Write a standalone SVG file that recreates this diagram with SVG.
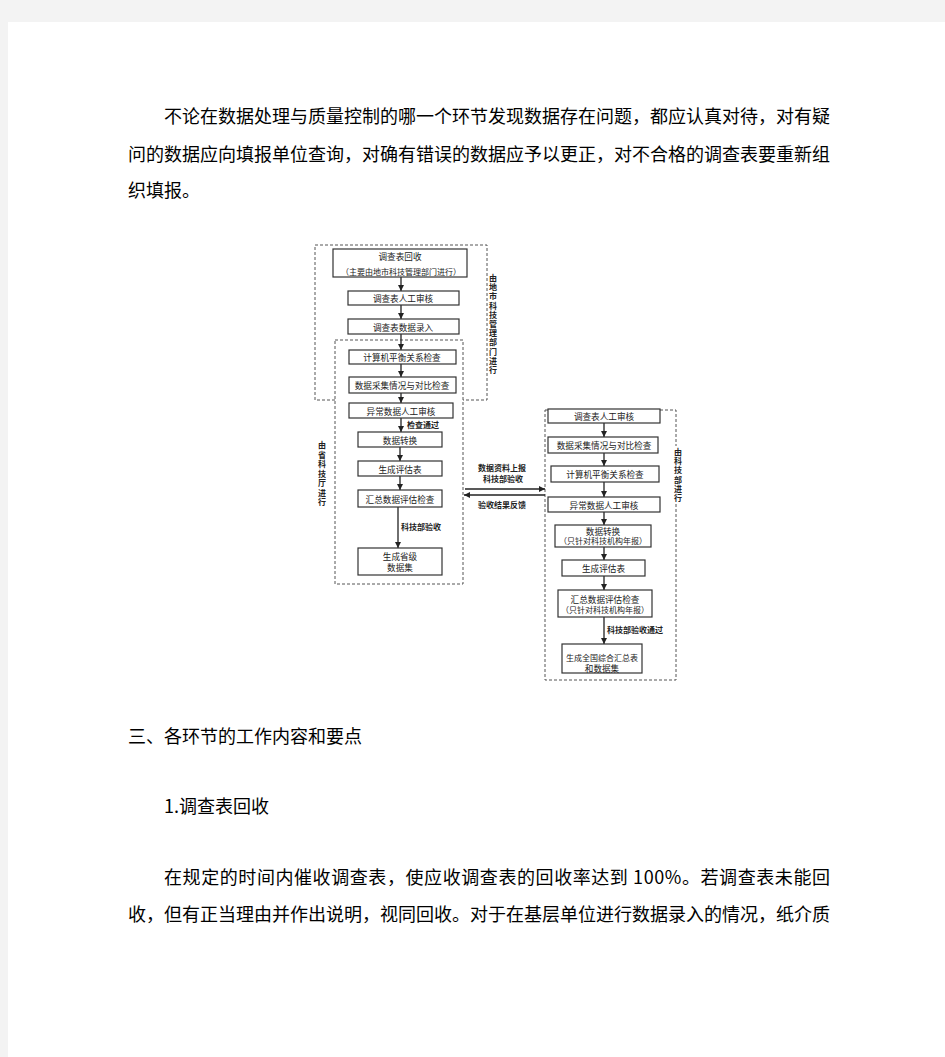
<svg xmlns="http://www.w3.org/2000/svg" width="945" height="1057" viewBox="0 0 945 1057">
<style>
.body{font-family:"Noto Sans CJK SC","Noto Sans",sans-serif;font-size:18px;fill:#000}
.nd rect{fill:#fff;stroke:#333;stroke-width:1.2}
.nd text{font-family:"Noto Sans CJK SC",sans-serif;font-size:8.6px;fill:#222;text-anchor:middle;dominant-baseline:central}
.nd text.sm{font-size:8px}
.grp{fill:none;stroke:#555;stroke-width:1;stroke-dasharray:3 2}
.lbl{font-family:"Noto Sans CJK SC",sans-serif;font-size:8px;font-weight:bold;fill:#222;dominant-baseline:central}
.vl{font-family:"Noto Sans CJK SC",sans-serif;font-size:8px;font-weight:bold;fill:#222;writing-mode:vertical-rl;letter-spacing:1.2px}
.conn line{stroke:#222;stroke-width:1.3}
</style>
<defs>
<marker id="ah" viewBox="0 0 6 6" refX="6" refY="3" markerWidth="6" markerHeight="6" markerUnits="userSpaceOnUse" orient="auto"><path d="M0,0 L6,3 L0,6 z" fill="#222"/></marker>
</defs>
<rect x="0" y="0" width="945" height="1057" fill="#f3f3f3"/>
<rect x="8" y="22" width="937" height="1035" fill="#fff"/>

<g id="text-top">
<text class="body" x="164" y="123" textLength="666" lengthAdjust="spacing">不论在数据处理与质量控制的哪一个环节发现数据存在问题，都应认真对待，对有疑</text>
<text class="body" x="128" y="161" textLength="702" lengthAdjust="spacing">问的数据应向填报单位查询，对确有错误的数据应予以更正，对不合格的调查表要重新组</text>
<text class="body" x="128" y="197">织填报。</text>
</g>

<g id="groups">
<path class="grp" d="M335,400 H315 V245 H487 V400 H463"/>
<rect class="grp" x="335" y="340" width="128" height="244"/>
<rect class="grp" x="545" y="410" width="131" height="270"/>
</g>

<g id="group-labels">
<rect x="674" y="446" width="9" height="58" fill="#fff"/>
<text class="vl" x="493" y="274">由地市科技管理部门进行</text>
<text class="vl" x="322" y="441" style="letter-spacing:1.5px">由省科技厅进行</text>
<text class="vl" x="678" y="448">由科技部进行</text>
</g>

<g id="connectors" class="conn">
<line x1="401" y1="277" x2="401" y2="291" marker-end="url(#ah)"/>
<line x1="401" y1="305" x2="401" y2="319" marker-end="url(#ah)"/>
<line x1="401" y1="334" x2="401" y2="350" marker-end="url(#ah)"/>
<line x1="401" y1="364" x2="401" y2="377" marker-end="url(#ah)"/>
<line x1="401" y1="393" x2="401" y2="403" marker-end="url(#ah)"/>
<line x1="401" y1="418" x2="401" y2="432" marker-end="url(#ah)"/>
<line x1="400" y1="447" x2="400" y2="461" marker-end="url(#ah)"/>
<line x1="400" y1="476" x2="400" y2="490" marker-end="url(#ah)"/>
<line x1="398" y1="507" x2="398" y2="548" marker-end="url(#ah)"/>
<line x1="604" y1="423" x2="604" y2="437" marker-end="url(#ah)"/>
<line x1="604" y1="453" x2="604" y2="466" marker-end="url(#ah)"/>
<line x1="604" y1="482" x2="604" y2="497" marker-end="url(#ah)"/>
<line x1="604" y1="512" x2="604" y2="525" marker-end="url(#ah)"/>
<line x1="604" y1="547" x2="604" y2="560" marker-end="url(#ah)"/>
<line x1="604" y1="576" x2="604" y2="590" marker-end="url(#ah)"/>
<line x1="604" y1="617" x2="604" y2="644" marker-end="url(#ah)"/>
<line x1="465" y1="489" x2="545" y2="489" marker-end="url(#ah)"/>
<line x1="545" y1="495" x2="464" y2="495" marker-end="url(#ah)"/>
<text class="lbl" x="407" y="424">检查通过</text>
<text class="lbl" x="401" y="526">科技部验收</text>
<text class="lbl" x="478" y="467">数据资料上报</text>
<text class="lbl" x="483" y="478">科技部验收</text>
<text class="lbl" x="478" y="504">验收结果反馈</text>
<text class="lbl" x="607" y="629">科技部验收通过</text>
</g>

<g id="n1" class="nd"><rect x="333" y="249" width="134" height="28"/><text x="400" y="256">调查表回收</text><text class="sm" x="401" y="271">（主要由地市科技管理部门进行）</text></g>
<g id="n2" class="nd"><rect x="348" y="291" width="111" height="14"/><text x="403" y="298">调查表人工审核</text></g>
<g id="n3" class="nd"><rect x="348" y="319" width="111" height="15"/><text x="403" y="326.5">调查表数据录入</text></g>
<g id="n4" class="nd"><rect x="349" y="350" width="107" height="14"/><text x="402" y="357">计算机平衡关系检查</text></g>
<g id="n5" class="nd"><rect x="349" y="377" width="107" height="16"/><text x="402" y="385">数据采集情况与对比检查</text></g>
<g id="n6" class="nd"><rect x="349" y="403" width="104" height="15"/><text x="401" y="410.5">异常数据人工审核</text></g>
<g id="n7" class="nd"><rect x="358" y="432" width="84" height="15"/><text x="400" y="439.5">数据转换</text></g>
<g id="n8" class="nd"><rect x="358" y="461" width="84" height="15"/><text x="400" y="468.5">生成评估表</text></g>
<g id="n9" class="nd"><rect x="358" y="490" width="84" height="17"/><text x="400" y="498.5">汇总数据评估检查</text></g>
<g id="n10" class="nd"><rect x="358" y="548" width="84" height="27"/><text x="400" y="556">生成省级</text><text x="400" y="567">数据集</text></g>

<g id="r1" class="nd"><rect x="548" y="409" width="112" height="14"/><text x="604" y="416">调查表人工审核</text></g>
<g id="r2" class="nd"><rect x="548" y="437" width="110" height="16"/><text x="604" y="445">数据采集情况与对比检查</text></g>
<g id="r3" class="nd"><rect x="551" y="466" width="108" height="16"/><text x="605" y="474">计算机平衡关系检查</text></g>
<g id="r4" class="nd"><rect x="548" y="497" width="112" height="15"/><text x="604" y="504.5">异常数据人工审核</text></g>
<g id="r5" class="nd"><rect x="555" y="525" width="96" height="22"/><text x="603" y="530.5">数据转换</text><text class="sm" x="603" y="540.5">（只针对科技机构年报）</text></g>
<g id="r6" class="nd"><rect x="562" y="560" width="83" height="16"/><text x="603.5" y="568">生成评估表</text></g>
<g id="r7" class="nd"><rect x="558" y="590" width="94" height="27"/><text x="605" y="599">汇总数据评估检查</text><text class="sm" x="605" y="609.5">（只针对科技机构年报）</text></g>
<g id="r8" class="nd"><rect x="562" y="644" width="80" height="29"/><text x="602" y="657" style="font-size:8px">生成全国综合汇总表</text><text x="602" y="668">和数据集</text></g>

<g id="text-bottom">
<text class="body" x="128" y="743">三、各环节的工作内容和要点</text>
<text class="body" x="164" y="813">1.调查表回收</text>
<text class="body" x="164" y="884" textLength="666" lengthAdjust="spacing">在规定的时间内催收调查表，使应收调查表的回收率达到 100%。若调查表未能回</text>
<text class="body" x="128" y="921" textLength="702" lengthAdjust="spacing">收，但有正当理由并作出说明，视同回收。对于在基层单位进行数据录入的情况，纸介质</text>
</g>
</svg>
